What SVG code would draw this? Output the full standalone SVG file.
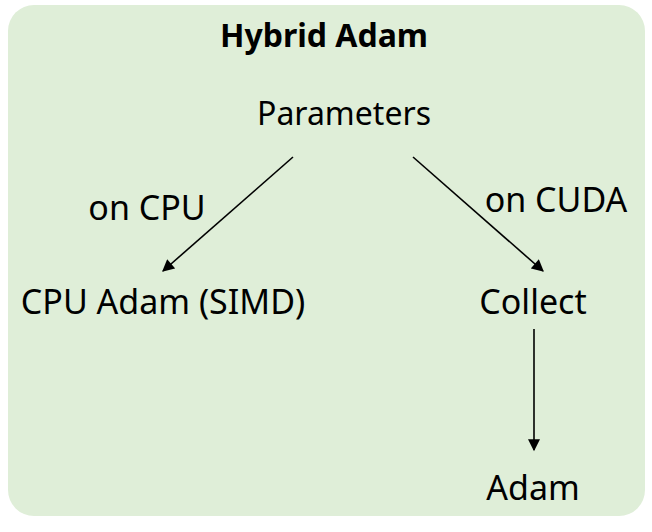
<svg xmlns="http://www.w3.org/2000/svg" width="652" height="532" viewBox="0 0 652 532">
<style>
text{font-family:"Noto Sans","Liberation Sans",sans-serif;fill:#000}
.lbl{font-size:34px}
.c{stroke:#000;stroke-width:1.6;fill:none;marker-end:url(#ah)}
</style>
<defs>
<marker id="ah" viewBox="0 0 10 10" refX="9" refY="5" markerWidth="13" markerHeight="12" markerUnits="userSpaceOnUse" orient="auto">
<path d="M0,0 L10,5 L0,10 z" fill="#000"/>
</marker>
</defs>
<rect x="0" y="0" width="652" height="532" fill="#fff"/>
<rect id="bg" x="8" y="5" width="637" height="511" rx="26" fill="#dfeed8"/>
<g id="title"><text x="324" y="47" font-size="32" font-weight="bold" text-anchor="middle">Hybrid Adam</text></g>
<g id="params"><text x="344" y="125" style="font-size:32px" text-anchor="middle">Parameters</text></g>
<g id="cpuadam"><text class="lbl" x="163" y="314" text-anchor="middle">CPU Adam (SIMD)</text></g>
<g id="collect"><text class="lbl" x="533" y="314" text-anchor="middle">Collect</text></g>
<g id="adam"><text class="lbl" x="533" y="500" text-anchor="middle">Adam</text></g>
<g id="connectors">
<line class="c" x1="293" y1="157" x2="163" y2="271"/>
<line class="c" x1="413" y1="157" x2="543" y2="271"/>
<line class="c" x1="534" y1="329" x2="534" y2="450"/>
<text class="lbl" x="147" y="220" text-anchor="middle">on CPU</text>
<text class="lbl" x="556" y="212" text-anchor="middle">on CUDA</text>
</g>
</svg>
